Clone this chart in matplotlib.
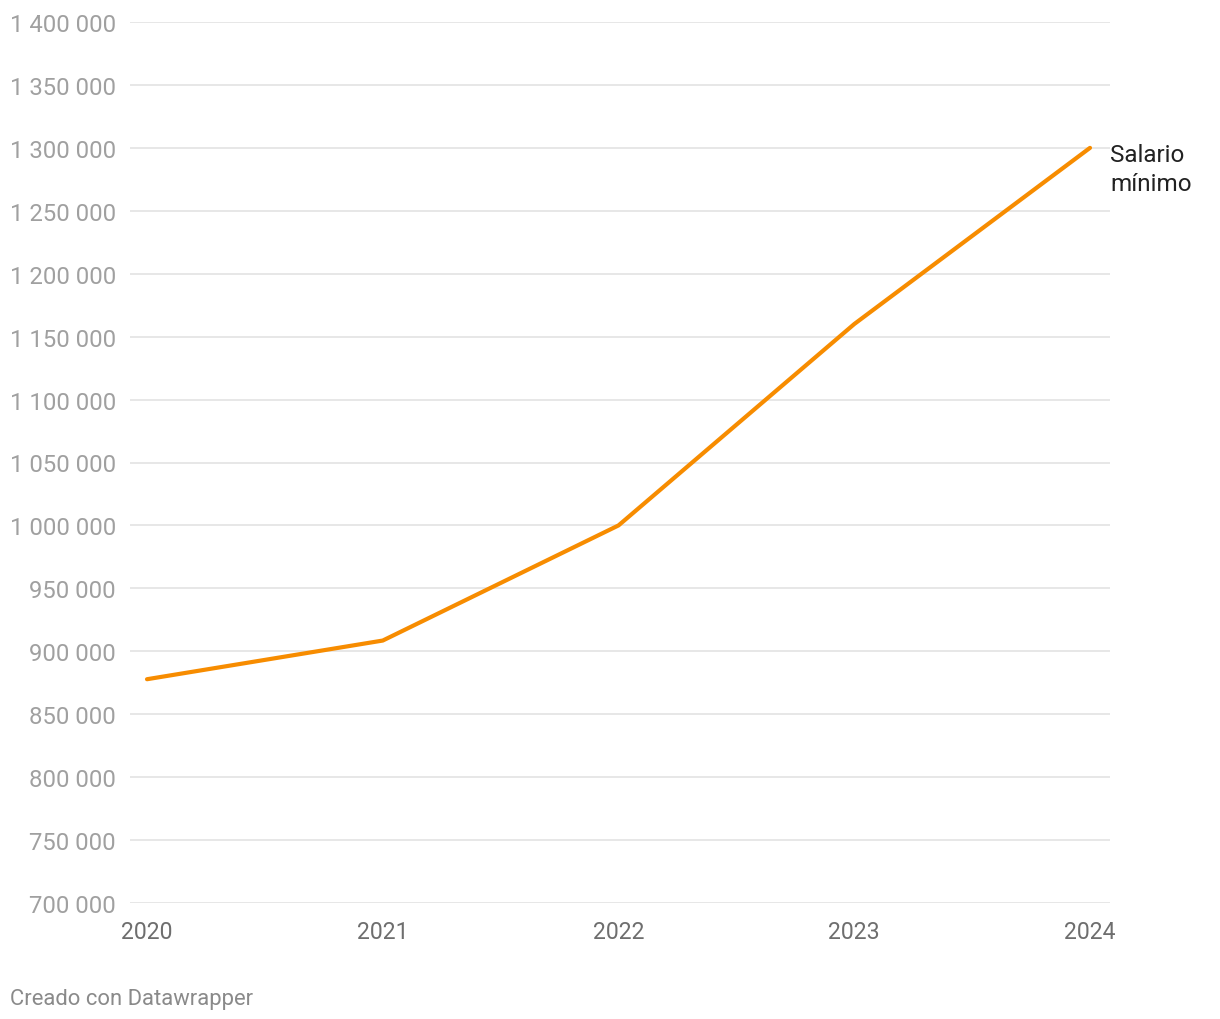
import matplotlib.pyplot as plt

years = [2020, 2021, 2022, 2023, 2024]
salario = [877803, 908526, 1000000, 1160000, 1300000]
y_ticks = list(range(700000, 1400001, 50000))
series_label = 'Salario\nmínimo'
footer = 'Creado con Datawrapper'


def fmt(v):
    return f'{v:,}'.replace(',', ' ')


plt.rcParams['font.family'] = ['Roboto', 'DejaVu Sans']

fig = plt.figure(figsize=(12.2, 10.2), dpi=100)
ax = fig.add_axes([130 / 1220, 116 / 1020, 980 / 1220, 881 / 1020])

ax.plot(years, salario, color='#f78c00', linewidth=3, solid_capstyle='round', zorder=3)

ax.set_xlim(2020 - 17 / 235.75, 2024 + 20 / 235.75)
ax.set_ylim(700000, 1400000)
ax.set_xticks(years)
ax.set_xticklabels([str(y) for y in years])
ax.set_yticks(y_ticks)
ax.set_yticklabels([fmt(v) for v in y_ticks])

ax.grid(axis='y', color='#e3e3e3', linewidth=1.2)
ax.set_axisbelow(True)
for s in ax.spines.values():
    s.set_visible(False)
ax.tick_params(axis='y', length=0, pad=10, labelsize=17.2, labelcolor='#a0a0a0')
ax.tick_params(axis='x', length=0, pad=12, labelsize=16.6, labelcolor='#6e6e6e')

ax.annotate(series_label, xy=(years[-1], salario[-1]), xytext=(20, -21),
            textcoords='offset pixels', ha='left', va='center',
            fontsize=17.5, color='#222222', linespacing=1.3)

fig.text(10 / 1220, 1 - 1000 / 1020, footer, ha='left', va='center',
         fontsize=15.8, color='#8a8a8a')

fig.savefig('out.png', dpi=100)
